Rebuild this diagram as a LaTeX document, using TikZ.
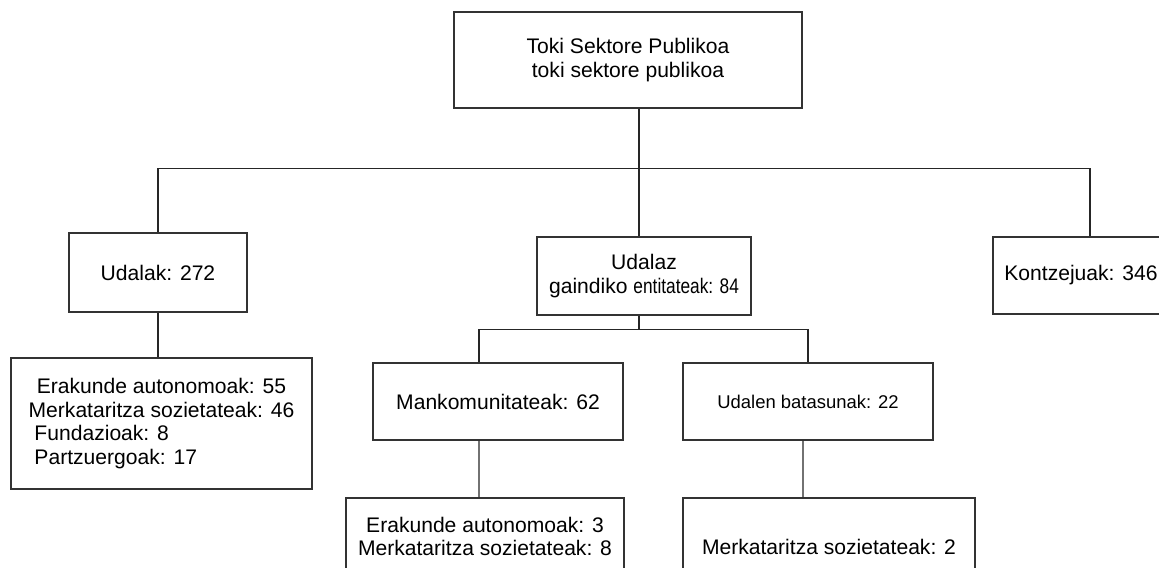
\documentclass[tikz,border=0pt]{standalone}
\usepackage{fontspec}
\setmainfont{Liberation Sans}
\usepackage{graphicx}
\usetikzlibrary{calc}

\tikzset{
  kutxa/.style={draw=black!80, line width=0.6pt, inner sep=0pt, align=center,
    font=\fontsize{12}{13.3}\selectfont},
  lotura/.style={draw=black!85, line width=0.6pt}
}

\begin{document}
\begin{tikzpicture}
			\useasboundingbox (-12.56,1.2) rectangle (10.62,-10.14);
			\clip (-12.56,1.2) rectangle (10.62,-10.14);

			\node[kutxa, minimum width=6.96cm, minimum height=1.92cm] (toki) at (0,0) {Toki Sektore Publikoa\\toki sektore publikoa};

			\node[kutxa, minimum width=3.56cm, minimum height=1.58cm] (udalak) at ($(toki)+(-9.4,-4.25)$) {Udalak: 272};
			\node[kutxa, minimum width=4.28cm, minimum height=1.56cm] (udalaz) at ($(toki)+(0.32,-4.32)$) {Udalaz\\gaindiko \scalebox{0.82}[1]{entitateak: 84}};
			\node[kutxa, minimum width=3.52cm, minimum height=1.54cm] (kontz) at ($(toki)+(9.06,-4.31)$) {Kontzejuak: 346};

			\node[kutxa, minimum width=6.02cm, minimum height=2.62cm] (udalakE) at ($(udalak)+(0.07,-3.02)$) {Erakunde autonomoak: 55\\Merkataritza sozietateak: 46\\\makebox[5.28cm][l]{\hspace{0.1cm}Fundazioak: 8}\\\makebox[5.28cm][l]{\hspace{0.1cm}Partzuergoak: 17}};

			\node[kutxa, minimum width=5cm, minimum height=1.54cm] (manko) at ($(toki)+(-2.6,-6.83)$) {Mankomunitateak: 62};
			\node[kutxa, minimum width=5cm, minimum height=1.54cm, font=\fontsize{10.5}{12}\selectfont] (batas) at ($(toki)+(3.6,-6.83)$) {Udalen batasunak: 22};

			\node[kutxa, minimum width=5.56cm, minimum height=1.54cm] (mankoE) at ($(manko)+(-0.26,-2.7)$) {Erakunde autonomoak: 3\\Merkataritza sozietateak: 8};
			\node[kutxa, minimum width=5.84cm, minimum height=1.96cm] (batasE) at ($(batas)+(0.42,-2.91)$) {Merkataritza sozietateak: 2};

			% adarkatze puntuak
			\coordinate (bus1) at ($(toki.south)+(0.22,-1.2)$);
			\coordinate (bus2) at ($(bus1)+(0,-3.22)$);

			\draw[lotura] ($(toki.south)+(0.22,0)$) -- (bus1);
			\draw[lotura] (bus1) -- (bus1 |- udalaz.north);
			\draw[lotura] (udalak.north) |- (bus1) -| ($(kontz.north)+(0.18,0)$);
			\draw[lotura] (udalak.south) -- (udalak.south |- udalakE.north);

			\draw[lotura] (bus2 |- udalaz.south) -- (bus2);
			\draw[lotura] ($(manko.north)+(-0.38,0)$) |- (bus2) -| (batas.north);

			\draw[lotura] ($(manko.south)+(-0.38,0)$) -- ($(mankoE.north)+(-0.12,0)$);
			\draw[lotura] ($(batas.south)+(-0.1,0)$) -- ($(batasE.north)+(-0.52,0)$);
		\end{tikzpicture}
\end{document}
